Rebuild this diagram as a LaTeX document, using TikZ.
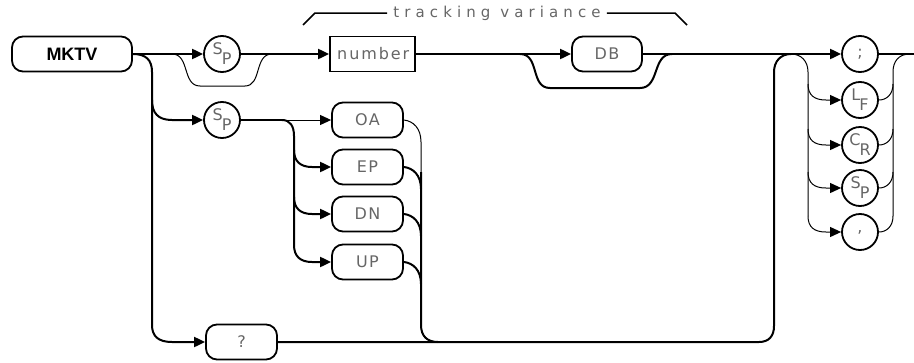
\documentclass[tikz,border=0pt]{standalone}
\usepackage{fontspec}
\setmainfont{DejaVu Sans}
\newfontfamily\hpfont[LetterSpace=8]{DejaVu Sans}
\newfontfamily\numfont[LetterSpace=12]{DejaVu Sans}
\newfontfamily\tvfont[LetterSpace=34]{DejaVu Sans}
\newfontfamily\kwfont{Liberation Sans}
\usetikzlibrary{arrows.meta}
\newcommand\subl[2]{\raisebox{4.5pt}{#1}\kern-1pt\raisebox{-5.5pt}{#2}}
\tikzset{
  line/.style={line width=2pt},
  thinline/.style={line width=1pt},
  arr/.style={-{Triangle[length=11pt,width=10pt]}},
  lbl/.style={font=\hpfont\fontsize{16}{16}\selectfont,text=black!60},
  term/.style={lbl,draw,line width=1.8pt,rounded corners=11pt,minimum height=35pt,inner sep=0pt},
  boxn/.style={lbl,draw,line width=1.8pt,minimum height=35pt,inner sep=0pt},
  circ/.style={lbl,draw,circle,line width=1.8pt,minimum size=36pt,inner sep=0pt,font=\hpfont\fontsize{16}{16}\selectfont},
}
\begin{document}
\begin{tikzpicture}[x=1pt,y=-1pt]
\useasboundingbox (0,0) rectangle (914,362);
% nodes
\node[term,minimum width=120pt,text=black,font=\kwfont\bfseries\fontsize{18}{18}\selectfont] (mktv) at (72,54) {MKTV};
\node[circ] (sp1) at (222,54) {\subl{S}{P}};
\node[boxn,minimum width=85pt,font=\numfont\fontsize{16}{16}\selectfont] (num) at (372.5,54) {number\kern-1.5pt};
\node[term,minimum width=70pt] (db) at (607,54) {DB};
\node[circ] (semi) at (860,54) {;};
\node[circ] (lf) at (860,100) {\subl{L}{F}};
\node[circ] (cr) at (860,145) {\subl{C}{R}};
\node[circ] (sp3) at (860,188) {\subl{S}{P}};
\node[circ] (comma) at (860,232) {,};
\node[circ] (sp2) at (222,120) {\subl{S}{P}};
\node[term,minimum width=71pt] (oa) at (367.5,120) {OA};
\node[term,minimum width=71pt] (ep) at (367.5,167) {EP};
\node[term,minimum width=71pt] (dn) at (367.5,214) {DN};
\node[term,minimum width=71pt] (up) at (367.5,262) {UP};
\node[term,minimum width=71pt] (q) at (241.5,342) {?};
\node[font=\tvfont\fontsize{15}{15}\selectfont,text=black!60,inner sep=6pt] (tv) at (497,13) {tracking variance};
\coordinate (rend) at (914,54);
% bracket
\draw[line width=1.5pt] (tv.west) -- (315,13) -- (303,25);
\draw[line width=1.5pt] (tv.east) -- (675,13) -- (687,25);
% main line
\draw[line,arr] (mktv.east) -- (sp1.west);
\draw[thinline] (172,54) .. controls (190,54) and (182,86) .. (200,86) -- (245,86) .. controls (262,86) and (254,54) .. (272,54);
\draw[line,arr] (sp1.east) -- (num.west);
\draw[line,arr] (num.east) -- (db.west);
\draw[line] (520,54) .. controls (540,54) and (530,88) .. (550,88) -- (640,88) .. controls (660,88) and (652,54) .. (672,54);
\draw[line,arr] (db.east) -- (semi.west);
\draw[line] (semi.east) -- (rend);
% left loop
\draw[line,arr] (mktv.east) .. controls (146,54) and (152,60) .. (152,72) -- (152,325) .. controls (152,336) and (158,342) .. (172,342) -- (q.west);
\draw[line,arr] (152,100) .. controls (152,113) and (158,120) .. (172,120) -- (sp2.west);
% options
\draw[line] (sp2.east) -- (282,120);
\draw[thinline,arr] (282,120) -- (oa.west);
\draw[line,arr] (282,120) .. controls (290,120) and (294,126) .. (294,136) -- (294,245) .. controls (294,256) and (300,262) .. (312,262) -- (up.west);
\draw[line,arr] (294,150) .. controls (294,161) and (300,167) .. (312,167) -- (ep.west);
\draw[line,arr] (294,197) .. controls (294,208) and (300,214) .. (312,214) -- (dn.west);
\draw[thinline] (oa.east) .. controls (413,121) and (421,128) .. (421,142) -- (421,172);
\draw[line] (ep.east) .. controls (413,168) and (421,175) .. (421,189);
\draw[line] (dn.east) .. controls (413,215) and (421,222) .. (421,236);
\draw[line] (up.east) .. controls (413,263) and (421,270) .. (421,284);
\draw[line] (421,172) -- (421,325) .. controls (421,336) and (427,342) .. (438,342);
% bottom return
\draw[line] (q.east) -- (759,342) .. controls (769,342) and (774,336) .. (774,326) -- (774,72) .. controls (774,61) and (781,54) .. (791,54);
% terminators
\draw[thinline] (791,54) .. controls (801,54) and (808,61) .. (808,72) -- (808,216);
\draw[thinline,arr] (808,84) .. controls (808,95) and (814,100) .. (826,100) -- (lf.west);
\draw[thinline,arr] (808,129) .. controls (808,140) and (814,145) .. (826,145) -- (cr.west);
\draw[thinline,arr] (808,172) .. controls (808,183) and (814,188) .. (826,188) -- (sp3.west);
\draw[thinline,arr] (808,216) .. controls (808,227) and (814,232) .. (826,232) -- (comma.west);
\draw[thinline] (lf.east) .. controls (887,100) and (893,94) .. (893,84);
\draw[thinline] (cr.east) .. controls (887,145) and (893,139) .. (893,129);
\draw[thinline] (sp3.east) .. controls (887,188) and (893,182) .. (893,172);
\draw[thinline] (comma.east) .. controls (887,232) and (893,226) .. (893,216);
\draw[thinline] (893,216) -- (893,72) .. controls (893,61) and (899,54) .. (910,54);
\end{tikzpicture}
\end{document}
